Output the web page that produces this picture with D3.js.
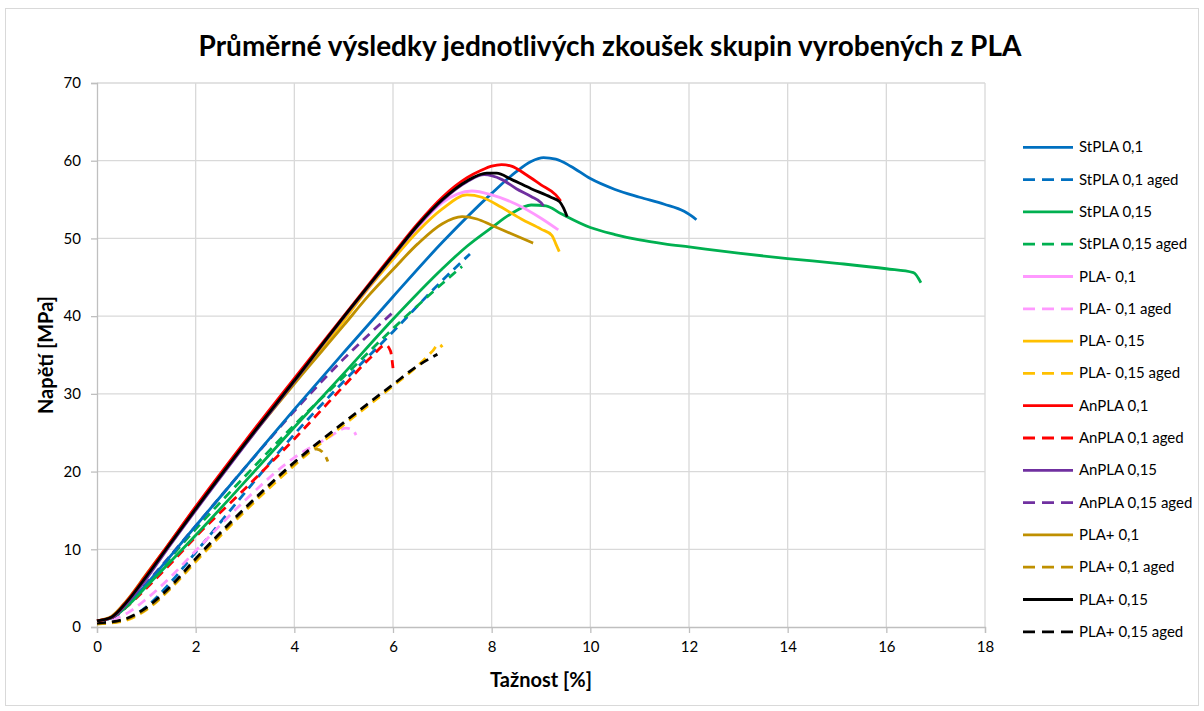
<!DOCTYPE html>
<html><head><meta charset="utf-8">
<script src="https://cdn.jsdelivr.net/npm/d3@7/dist/d3.min.js"></script>
<style>
body{margin:0;background:#fff;}
text{font-family:Lato,"Open Sans",sans-serif;fill:#000;}
</style></head>
<body><svg id="c" width="1204" height="711"></svg>
<script>
// ---- data ----
const seriesNames = ["StPLA 0,1","StPLA 0,1 aged","StPLA 0,15","StPLA 0,15 aged","PLA- 0,1","PLA- 0,1 aged","PLA- 0,15","PLA- 0,15 aged","AnPLA 0,1","AnPLA 0,1 aged","AnPLA 0,15","AnPLA 0,15 aged","PLA+ 0,1","PLA+ 0,1 aged","PLA+ 0,15","PLA+ 0,15 aged"];
const seriesColors = ["#0070C0","#0070C0","#00B050","#00B050","#FF99FF","#FF99FF","#FFC000","#FFC000","#FF0000","#FF0000","#7030A0","#7030A0","#BF9000","#BF9000","#000000","#000000"];
const seriesDashed = [false,true,false,true,false,true,false,true,false,true,false,true,false,true,false,true];
const xTicks = [0,2,4,6,8,10,12,14,16,18];
const yTicks = [0,10,20,30,40,50,60,70];

const stpla01 = [[0,0.8],[0.3,1.2],[0.6,2.7],[1,5.5],[2,13.0],[3,20.5],[4,28.0],[5,35.3],[6,42.5],[7,49.5],[8,55.8],[8.5,58.6],[8.8,59.9],[9.05,60.4],[9.3,60.2],[9.6,59.3],[10,57.7],[10.5,56.3],[11,55.3],[11.5,54.4],[11.9,53.5],[12.05,52.9],[12.15,52.4]];
const stpla01aged = [[0,0.5],[0.5,0.8],[1,2.6],[1.5,5.8],[2,9.6],[3,17.3],[4,24.8],[5,31.6],[6,38.0],[7,44.6],[7.56,48.0]];
const stpla015 = [[0,0.8],[0.3,1.2],[0.6,2.6],[1,5.2],[2,11.8],[3,18.7],[4,25.7],[5,32.6],[6,39.6],[7,46.1],[7.5,49.0],[8,51.4],[8.4,53.2],[8.8,54.3],[9.1,54.2],[9.4,53.2],[10,51.4],[10.5,50.5],[11,49.8],[11.5,49.3],[12,48.9],[13,48.1],[14,47.4],[15,46.8],[16,46.1],[16.55,45.6],[16.7,44.3]];
const stpla015aged = [[0,0.8],[0.3,1.1],[0.6,2.6],[1,5.4],[2,12.6],[3,19.4],[4,26.0],[5,32.2],[6,38.4],[7,44.2],[7.4,46.4]];
const plam01 = [[0,0.8],[0.3,1.3],[0.6,3.2],[1,6.5],[1.4,10],[2,15.2],[3,23.6],[4,31.7],[5,39.6],[6,47.5],[6.5,51.4],[7,54.6],[7.3,55.7],[7.6,56.1],[8,55.6],[8.5,54.4],[9,52.6],[9.35,51.1]];
const plam01aged = [[0,0.7],[0.5,1.4],[1,3.6],[1.5,6.5],[2,9.8],[3,16.3],[4,21.8],[4.7,24.4],[5.05,25.6],[5.2,25.2],[5.25,24.7]];
const plam015 = [[0,0.8],[0.3,1.3],[0.6,3.2],[1,6.5],[1.4,10],[2,15.2],[3,23.6],[4,31.6],[5,39.4],[5.5,43.6],[6,47.3],[6.5,50.9],[7,53.8],[7.5,55.6],[7.8,55.3],[8.2,54.0],[8.6,52.5],[9,51.2],[9.22,50.4],[9.3,49.3],[9.37,48.3]];
const plam015aged = [[0,0.4],[0.5,0.7],[1,2.2],[1.5,5.0],[2,8.4],[3,14.9],[4,20.8],[5,26.0],[6,31.0],[6.5,33.6],[6.8,35.5],[6.93,36.4],[7.0,36.0]];
const anpla01 = [[0,0.8],[0.3,1.3],[0.6,3.3],[1,6.7],[1.4,10.2],[2,15.5],[3,23.9],[4,32.0],[5,40.0],[6,48.0],[6.5,51.9],[7,55.3],[7.5,57.8],[7.8,58.8],[8.0,59.3],[8.2,59.5],[8.4,59.3],[8.7,58.2],[9.0,56.9],[9.3,55.6],[9.4,54.8]];
const anpla01aged = [[0,0.8],[0.3,1.2],[0.6,2.6],[1,5.0],[1.5,8.2],[2,11.6],[3,17.8],[4,24.2],[5,31.0],[5.6,35.0],[5.85,36.3],[5.95,35.5],[6.0,33.3]];
const anpla015 = [[0,0.8],[0.3,1.2],[0.6,3.0],[1,6.2],[1.4,9.8],[2,15.0],[3,23.4],[4,31.6],[5,39.8],[6,47.7],[6.5,51.6],[7,54.9],[7.5,57.3],[7.85,58.2],[8.2,57.6],[8.5,56.4],[8.8,55.4],[9.0,54.6],[9.05,54.2]];
const anpla015aged = [[0,0.8],[0.3,1.2],[0.6,2.7],[1,5.6],[2,13.0],[3,20.5],[4,27.8],[5,34.5],[6,40.5]];
const plap01 = [[0,0.8],[0.3,1.4],[0.6,3.4],[1,6.8],[1.4,10.2],[2,15.4],[3,23.5],[4,31.3],[5,38.8],[5.5,42.6],[6,46.0],[6.5,49.3],[7,51.9],[7.4,52.8],[7.7,52.5],[8,51.7],[8.4,50.6],[8.84,49.4]];
const plap01aged = [[0,0.4],[0.5,0.8],[1,2.3],[1.5,5.1],[2,8.6],[3,15.1],[4,21.0],[4.45,22.9],[4.6,22.3],[4.68,21.3]];
const plap015 = [[0,0.8],[0.3,1.3],[0.6,3.2],[1,6.5],[1.4,10],[2,15.2],[3,23.6],[4,31.7],[5,39.9],[6,47.8],[6.5,51.7],[7,55.0],[7.5,57.4],[7.9,58.4],[8.1,58.4],[8.4,57.6],[8.8,56.4],[9.2,55.3],[9.38,54.7],[9.45,54.0],[9.53,52.8]];
const plap015aged = [[0,0.5],[0.5,0.9],[1,2.5],[1.5,5.3],[2,8.8],[3,15.3],[4,21.2],[5,26.3],[6,31.2],[6.5,33.6],[6.9,35.1]];

const seriesData = [stpla01,stpla01aged,stpla015,stpla015aged,plam01,plam01aged,plam015,plam015aged,anpla01,anpla01aged,anpla015,anpla015aged,plap01,plap01aged,plap015,plap015aged];

// ---- drawing ----
const svg = d3.select("#c");
svg.append("rect").attr("x",5.5).attr("y",8.5).attr("width",1193).attr("height",697)
  .attr("fill","#fff").attr("stroke","#D9D9D9").attr("stroke-width",1);

const mLeft=97, mRight=985, mTop=83, mBottom=627;
const x = d3.scaleLinear().domain([0,18]).range([mLeft,mRight]);
const y = d3.scaleLinear().domain([0,70]).range([mBottom,mTop]);

// grid
const g = svg.append("g");
g.selectAll(".vg").data(xTicks.slice(1)).join("line")
  .attr("x1",d=>x(d)).attr("x2",d=>x(d)).attr("y1",mTop).attr("y2",mBottom)
  .attr("stroke","#D9D9D9").attr("stroke-width",1.3);
g.selectAll(".hg").data(yTicks.slice(1)).join("line")
  .attr("x1",mLeft).attr("x2",mRight).attr("y1",d=>y(d)).attr("y2",d=>y(d))
  .attr("stroke","#D9D9D9").attr("stroke-width",1.3);

// axes
const xAxis = d3.axisBottom(x).tickValues(xTicks).tickSize(6).tickPadding(8);
const yAxis = d3.axisLeft(y).tickValues(yTicks).tickSize(6).tickPadding(10);
const gx = svg.append("g").attr("transform",`translate(0,${mBottom})`).call(xAxis);
const gy = svg.append("g").attr("transform",`translate(${mLeft},0)`).call(yAxis);
[gx,gy].forEach(a=>{
  a.select(".domain").attr("stroke","#BFBFBF").attr("stroke-width",1.3);
  a.selectAll(".tick line").attr("stroke","#BFBFBF").attr("stroke-width",1.3);
  a.selectAll(".tick text").attr("font-size",15).attr("font-family","Lato, sans-serif").attr("fill","#000");
});

// lines
const line = d3.line().x(d=>x(d[0])).y(d=>y(d[1])).curve(d3.curveMonotoneX);
const order = [1,3,5,7,9,11,13,15,0,2,4,6,12,10,8,14];
order.forEach(i=>{
  svg.append("path").datum(seriesData[i]).attr("d",line)
    .attr("fill","none").attr("stroke",seriesColors[i]).attr("stroke-width",2.8)
    .attr("stroke-linejoin","round")
    .attr("stroke-dasharray",seriesDashed[i]?"9,6":null);
});

// titles
svg.append("text").attr("x",610).attr("y",56).attr("text-anchor","middle")
  .attr("font-size",28).attr("font-weight","bold").text("Průměrné výsledky jednotlivých zkoušek skupin vyrobených z PLA");
svg.append("text").attr("x",541).attr("y",687).attr("text-anchor","middle")
  .attr("font-size",20).attr("font-weight","bold").text("Tažnost [%]");
svg.append("text").attr("transform","translate(53,355) rotate(-90)").attr("text-anchor","middle")
  .attr("font-size",20).attr("font-weight","bold").text("Napětí [MPa]");

// legend
const lg = svg.append("g");
seriesNames.forEach((n,i)=>{
  const yy = 147.3 + i*32.3;
  lg.append("line").attr("x1",1023).attr("x2",1073).attr("y1",yy).attr("y2",yy)
    .attr("stroke",seriesColors[i]).attr("stroke-width",2.8)
    .attr("stroke-dasharray",seriesDashed[i]?"12,7":null);
  lg.append("text").attr("x",1079).attr("y",yy+5).attr("font-size",15).text(n);
});
</script></body></html>
